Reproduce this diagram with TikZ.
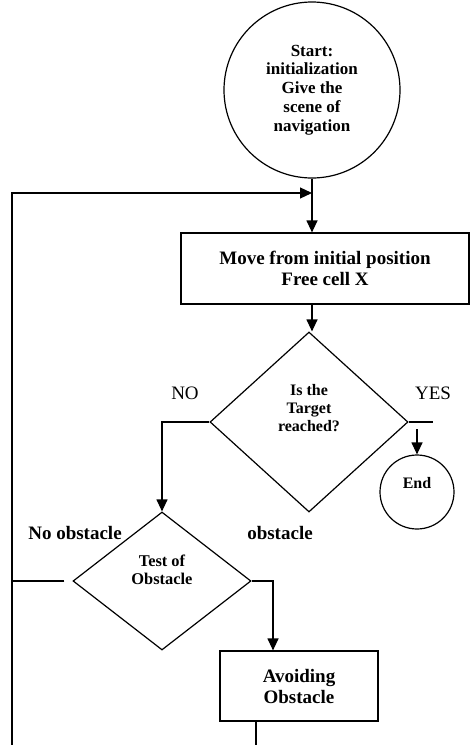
\documentclass[tikz,border=0pt]{standalone}
\usepackage{fontspec}
\setmainfont{Liberation Serif}
\usepackage{tikz}
\usetikzlibrary{shapes,arrows,arrows.meta,positioning}

\begin{document}
\begin{tikzpicture}[x=1pt,y=-1pt,line width=1.2pt,
	>={Triangle[length=12pt,width=11pt]},
	terminal/.style={circle,draw=black,inner sep=0pt,align=center},
	stepbox/.style={rectangle,draw=black,inner sep=0pt,align=center},
	decide/.style={diamond,draw=black,inner sep=0pt,align=center},
	lbl/.style={inner sep=0pt,font=\fontsize{19}{21}\selectfont}]
	\useasboundingbox (0,0) rectangle (470,745);
	% the blocks
	\node[terminal,minimum size=176pt,font=\fontsize{17}{18.8}\selectfont\bfseries] (start) at (312,90) {Start:\\initialization\\Give the\\scene of\\navigation};
	\node[stepbox,minimum width=288pt,minimum height=71pt,font=\fontsize{19}{20.5}\selectfont\bfseries] (move) at (325,268.5) {Move from initial position\\Free cell X};
	\node[decide,minimum width=198pt,minimum height=180pt,text depth=28pt,font=\fontsize{16}{18.3}\selectfont\bfseries] (target) at (309,422) {Is the\\Target\\reached?};
	\node[terminal,minimum size=74pt,text depth=18pt,font=\fontsize{16}{18}\selectfont\bfseries] (endc) at (417,492) {End};
	\node[decide,minimum width=178pt,minimum height=138pt,text depth=22pt,font=\fontsize{16.4}{17.7}\selectfont\bfseries] (test) at (162,581) {Test of\\Obstacle};
	\node[stepbox,minimum width=158pt,minimum height=70pt,font=\fontsize{19}{21}\selectfont\bfseries] (avoid) at (299,686) {Avoiding\\Obstacle};
	%% the labels
	\node[lbl] (no) at (185,393) {NO};
	\node[lbl] (yes) at (433,393) {YES};
	\node[lbl,font=\fontsize{19}{21}\selectfont\bfseries] (noobs) at (75,533) {No obstacle};
	\node[lbl,font=\fontsize{19}{21}\selectfont\bfseries] (obs) at (280,533) {obstacle};
	%% the connectors
	\coordinate (merge) at (312,193);
	\coordinate (loopin) at (12,745);
	\coordinate (yesend) at (433,422);
	\coordinate (avout) at (256,745);
	\path (avoid.north) ++(-26,0) coordinate (avin);
	\draw (start.south) -- (merge);
	\draw[->] (loopin) |- (merge);
	\draw[->] (merge) -- (merge |- move.north);
	\draw[->] (merge |- move.south) -- (merge |- target.north);
	\draw[->] (target.west) -| (test.north);
	\draw (target.east) -- (yesend);
	\draw[->] ([yshift=25pt]endc.north) -- (endc.north);
	\draw ([xshift=-8pt]test.west) -- (test.west -| loopin);
	\draw[->] (test.east) -| (avin);
	\draw (avoid.south -| avout) -- (avout);
\end{tikzpicture}
\end{document}
